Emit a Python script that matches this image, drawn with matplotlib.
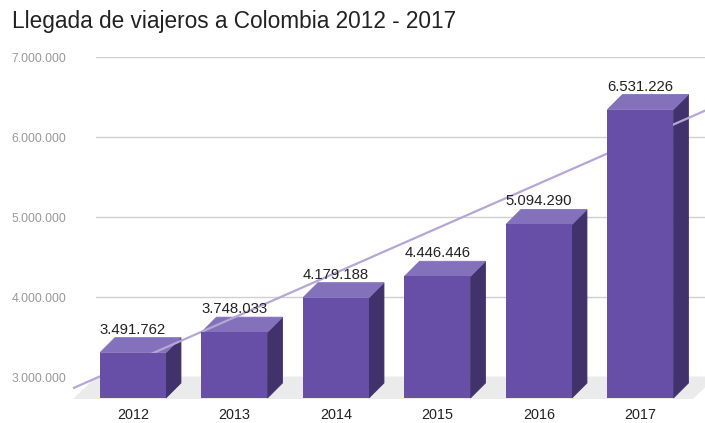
import numpy as np
import matplotlib
matplotlib.use("Agg")
import matplotlib.pyplot as plt
from matplotlib.patches import Polygon

plt.rcParams["font.family"] = ["Liberation Sans", "DejaVu Sans"]

# -----------------------------
# Data
# -----------------------------
years = ["2012", "2013", "2014", "2015", "2016", "2017"]
travellers = [3491762, 3748033, 4179188, 4446446, 5094290, 6531226]
value_labels = ["3.491.762", "3.748.033", "4.179.188", "4.446.446", "5.094.290", "6.531.226"]
y_ticks = [3000000, 4000000, 5000000, 6000000, 7000000]
y_tick_labels = ["3.000.000", "4.000.000", "5.000.000", "6.000.000", "7.000.000"]

# -----------------------------
# Style
# -----------------------------
FRONT = "#674ea7"
SIDE = "#42326c"
TOP = "#8471bb"
TREND = "#b4a7d6"
FLOOR = "#ebebeb"
GRID = "#d0d0d0"

W, H = 705, 423
fig = plt.figure(figsize=(W / 100, H / 100), dpi=100)
ax_px = (96, 46, 609, 320)  # left, bottom, width, height in pixels
ax = fig.add_axes([ax_px[0] / W, ax_px[1] / H, ax_px[2] / W, ax_px[3] / H])

xlim = (-0.512, 5.488)
ylim = (3000000, 7000000)
ax.set_xlim(xlim)
ax.set_ylim(ylim)

# pixel -> data conversion
ux = ax_px[2] / (xlim[1] - xlim[0])
uy = ax_px[3] / (ylim[1] - ylim[0])
dx = 15 / ux          # bar depth
dy = 15 / uy
fdx = 23 / ux         # floor depth
fdy = 22 / uy
base = ylim[0] - 6 / uy
half = 0.325

# -----------------------------
# Floor
# -----------------------------
floor = Polygon(
    [(xlim[0], ylim[0]), (xlim[1] + 11 / ux, ylim[0]),
     (xlim[1] + 11 / ux - fdx, ylim[0] - fdy), (xlim[0] - fdx, ylim[0] - fdy)],
    closed=True, facecolor=FLOOR, edgecolor="none", zorder=0.6, clip_on=False
)
ax.add_patch(floor)

# -----------------------------
# 3D bars
# -----------------------------
for i, v in enumerate(travellers):
    xl, xr = i - half, i + half
    front = [(xl - dx, base - dy), (xr - dx, base - dy), (xr - dx, v - dy), (xl - dx, v - dy)]
    side = [(xr - dx, base - dy), (xr, base), (xr, v), (xr - dx, v - dy)]
    top = [(xl - dx, v - dy), (xr - dx, v - dy), (xr, v), (xl, v)]
    ax.add_patch(Polygon(side, closed=True, facecolor=SIDE, edgecolor=SIDE,
                         linewidth=0.6, zorder=2, clip_on=False))
    ax.add_patch(Polygon(top, closed=True, facecolor=TOP, edgecolor=TOP,
                         linewidth=0.6, zorder=2, clip_on=False))
    ax.add_patch(Polygon(front, closed=True, facecolor=FRONT, edgecolor="none",
                         zorder=4, clip_on=False))
    ax.text(i - dx, v + 4 / uy, value_labels[i], ha="center", va="baseline",
            fontsize=10.7, color="#222222", zorder=5)

# -----------------------------
# Linear trendline
# -----------------------------
idx = np.arange(len(travellers))
slope, intercept = np.polyfit(idx, travellers, 1)
t = np.array([xlim[0] - fdx + dx, xlim[1] + 1.0])
ax.plot(t - dx, slope * t + intercept, color=TREND, linewidth=1.6,
        zorder=3, clip_on=False, solid_capstyle="butt")

# -----------------------------
# Axes
# -----------------------------
ax.set_yticks(y_ticks)
ax.set_yticklabels(y_tick_labels)
ax.set_xticks(idx - dx)
ax.set_xticklabels(years)
ax.tick_params(axis="y", length=0, pad=21.5, labelsize=8.8, labelcolor="#9a9a9a")
ax.tick_params(axis="x", length=0, pad=22, labelsize=10.4, labelcolor="#222222")
ax.yaxis.grid(True, color=GRID, linewidth=1.0, zorder=0.5)
ax.set_axisbelow(True)
for s in ax.spines.values():
    s.set_visible(False)

fig.text(12 / W, 1 - 28 / H, "Llegada de viajeros a Colombia 2012 - 2017",
         fontsize=16.3, color="#222222", ha="left", va="baseline")

fig.savefig("out.png", dpi=100)
